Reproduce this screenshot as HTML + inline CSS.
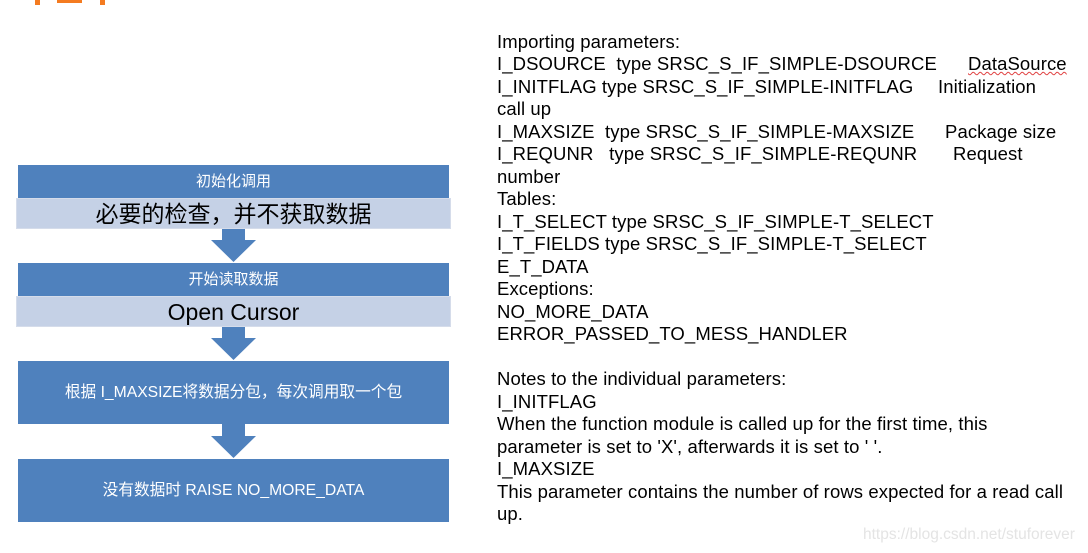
<!DOCTYPE html>
<html><head><meta charset="utf-8"><style>
html,body{margin:0;padding:0;background:#fff;}
body{width:1088px;height:553px;position:relative;overflow:hidden;font-family:"Liberation Sans","Noto Sans CJK SC",sans-serif;}
.b{position:absolute;background:#4f81bd;color:#fff;text-align:center;}
.l{position:absolute;background:#c5d1e6;color:#000;text-align:center;border:1px solid #d5dcea;box-sizing:border-box;}
.t{position:absolute;left:497px;font-size:18.5px;color:#000;white-space:pre;line-height:22px;letter-spacing:0.1px;}
.d{position:absolute;font-size:18.5px;color:#000;white-space:pre;line-height:22px;letter-spacing:0.1px;}
</style></head><body>
<div style="position:absolute;left:35px;top:0;width:5px;height:5px;background:#f47b20;"></div>
<div style="position:absolute;left:57px;top:0;width:25px;height:3px;background:#f47b20;"></div>
<div style="position:absolute;left:100px;top:0;width:5px;height:5px;background:#f47b20;"></div>

<div class="b" style="left:18px;top:165px;width:431px;height:33px;line-height:33px;font-size:15px;">初始化调用</div>
<div class="l" style="left:16px;top:198px;width:435px;height:31px;line-height:30px;font-size:23px;">必要的检查，并不获取数据</div>
<svg style="position:absolute;left:0;top:0" width="460" height="553">
<g fill="#4f81bd">
<polygon points="222,229 245,229 245,240 256,240 233.5,262 211,240 222,240"/>
<polygon points="222,327 245,327 245,338 256,338 233.5,360 211,338 222,338"/>
<polygon points="222,424 245,424 245,436 256,436 233.5,458 211,436 222,436"/>
</g></svg>
<div class="b" style="left:18px;top:263px;width:431px;height:33px;line-height:33px;font-size:15px;">开始读取数据</div>
<div class="l" style="left:16px;top:296px;width:435px;height:31px;line-height:30px;font-size:23px;">Open Cursor</div>
<div class="b" style="left:18px;top:361px;width:431px;height:63px;line-height:63px;font-size:15.7px;">根据 I_MAXSIZE将数据分包，每次调用取一个包</div>
<div class="b" style="left:18px;top:459px;width:431px;height:63px;line-height:63px;font-size:15.7px;">没有数据时 RAISE NO_MORE_DATA</div>

<div class="t" style="top:31px">Importing parameters:</div>
<div class="t" style="top:53px">I_DSOURCE  type SRSC_S_IF_SIMPLE-DSOURCE</div><div class="d" style="left:968px;top:53px;text-decoration:underline wavy #e04040;text-decoration-thickness:1px;">DataSource</div>
<div class="t" style="top:76px">I_INITFLAG type SRSC_S_IF_SIMPLE-INITFLAG</div><div class="d" style="left:938px;top:76px">Initialization</div>
<div class="t" style="top:98px">call up</div>
<div class="t" style="top:121px">I_MAXSIZE  type SRSC_S_IF_SIMPLE-MAXSIZE</div><div class="d" style="left:945px;top:121px">Package size</div>
<div class="t" style="top:143px">I_REQUNR   type SRSC_S_IF_SIMPLE-REQUNR</div><div class="d" style="left:953px;top:143px">Request</div>
<div class="t" style="top:166px">number</div>
<div class="t" style="top:188px">Tables:</div>
<div class="t" style="top:211px">I_T_SELECT type SRSC_S_IF_SIMPLE-T_SELECT</div>
<div class="t" style="top:233px">I_T_FIELDS type SRSC_S_IF_SIMPLE-T_SELECT</div>
<div class="t" style="top:256px">E_T_DATA</div>
<div class="t" style="top:278px">Exceptions:</div>
<div class="t" style="top:301px">NO_MORE_DATA</div>
<div class="t" style="top:323px">ERROR_PASSED_TO_MESS_HANDLER</div>
<div class="t" style="top:368px">Notes to the individual parameters:</div>
<div class="t" style="top:391px">I_INITFLAG</div>
<div class="t" style="top:413px">When the function module is called up for the first time, this</div>
<div class="t" style="top:436px">parameter is set to 'X', afterwards it is set to ' '.</div>
<div class="t" style="top:458px">I_MAXSIZE</div>
<div class="t" style="top:481px">This parameter contains the number of rows expected for a read call</div>
<div class="t" style="top:503px">up.</div>

<div style="position:absolute;left:863px;top:526px;font-size:15.5px;color:#e4e4e4;">https://blog.csdn.net/stuforever</div>
</body></html>
